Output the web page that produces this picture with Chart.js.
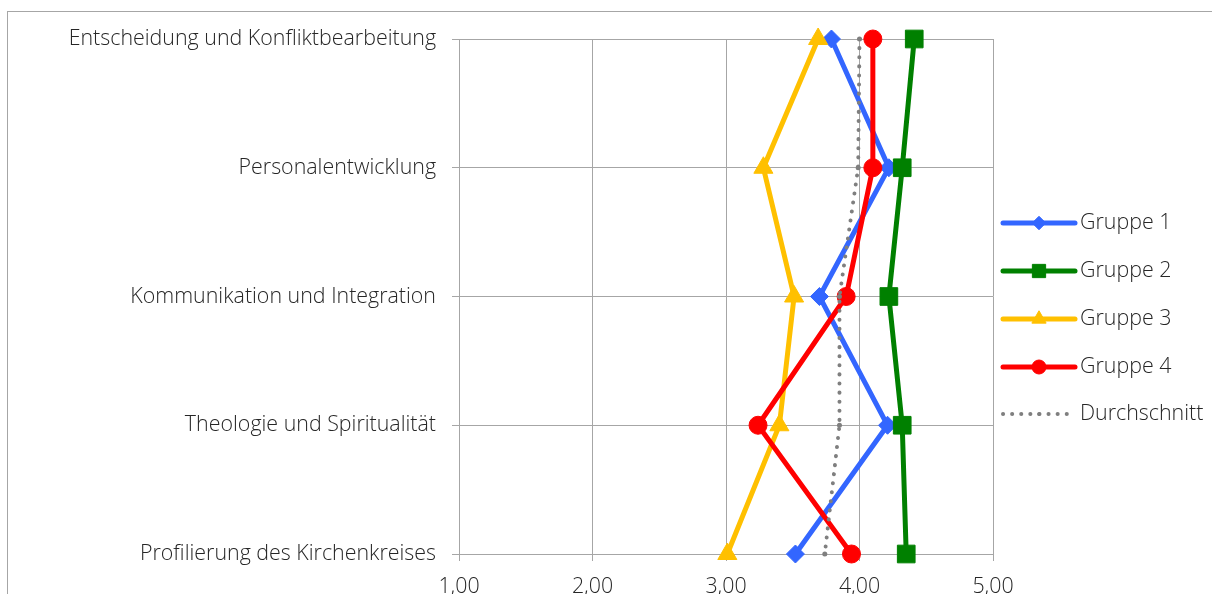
<!DOCTYPE html>
<html>
<head>
<meta charset="utf-8">
<script src="https://cdn.jsdelivr.net/npm/chart.js@4"></script>
<style>
  html, body { margin: 0; padding: 0; background: #fff; overflow: hidden; }
  canvas { display: block; }
</style>
</head>
<body>
<canvas id="c" width="1212" height="594"></canvas>
<script>
// Kompetenzfelder (y-Achse, von oben nach unten)
const categories = [
  'Entscheidung und Konfliktbearbeitung',
  'Personalentwicklung',
  'Kommunikation und Integration',
  'Theologie und Spiritualität',
  'Profilierung des Kirchenkreises'
];

// Mittelwerte je Gruppe
const gruppe1 = [3.79, 4.22, 3.70, 4.21, 3.52];
const gruppe2 = [4.41, 4.32, 4.22, 4.32, 4.35];
const gruppe3 = [3.69, 3.28, 3.51, 3.40, 3.01];
const gruppe4 = [4.10, 4.10, 3.90, 3.24, 3.94];
const durchschnitt = [4.00, 3.99, 3.85, 3.85, 3.74];

const seriesNames = ['Gruppe 1', 'Gruppe 2', 'Gruppe 3', 'Gruppe 4', 'Durchschnitt'];
const xTicks = [1, 2, 3, 4, 5];

const FONT = '"Open Sans"';
const FONT_SIZE = 21.4;
const TEXT = '#262626';
const GRID = '#a6a6a6';

function solidSeries(label, data, color, pointStyle, radius, order) {
  return {
    label, data, order,
    borderColor: color,
    backgroundColor: color,
    borderWidth: 5,
    pointStyle,
    pointRadius: radius,
    pointBorderWidth: 1,
    pointBorderColor: color,
    pointBackgroundColor: color,
    tension: 0
  };
}

const datasets = [
  solidSeries(seriesNames[0], gruppe1, '#3366ff', 'rectRot', 9, 5),
  solidSeries(seriesNames[1], gruppe2, '#008000', 'rect', 12.5, 4),
  solidSeries(seriesNames[2], gruppe3, '#ffc000', 'triangle', 11, 3),
  solidSeries(seriesNames[3], gruppe4, '#ff0000', 'circle', 9, 2),
  {
    label: seriesNames[4], data: durchschnitt, order: 1,
    borderColor: '#7f7f7f',
    backgroundColor: '#7f7f7f',
    borderWidth: 4,
    borderDash: [0.1, 9],
    borderCapStyle: 'round',
    pointStyle: 'circle',
    pointRadius: 2.5,
    pointBorderWidth: 0,
    pointBackgroundColor: '#7f7f7f',
    tension: 0
  }
];

// Rahmen um den Diagrammbereich
const frame = {
  id: 'frame',
  beforeDraw(chart) {
    const ctx = chart.ctx;
    ctx.save();
    ctx.strokeStyle = '#a6a6a6';
    ctx.lineWidth = 1;
    ctx.strokeRect(7.5, 11.5, 3000, 3000);
    ctx.restore();
  }
};

// Legende rechts: Linienmuster mit Markierung und Name
const sideLegend = {
  id: 'sideLegend',
  afterDraw(chart) {
    const ctx = chart.ctx;
    const x0 = 1003, x1 = 1075, xm = (x0 + x1) / 2, tx = 1080;
    const ys = [223, 271, 319, 367, 414];
    ctx.save();
    chart.data.datasets.forEach((ds, i) => {
      const y = ys[i];
      ctx.save();
      ctx.strokeStyle = ds.borderColor;
      ctx.lineWidth = ds.borderWidth;
      ctx.lineCap = 'round';
      if (ds.borderDash) ctx.setLineDash(ds.borderDash);
      ctx.beginPath();
      ctx.moveTo(x0, y);
      ctx.lineTo(x1, y);
      ctx.stroke();
      ctx.restore();
      ctx.fillStyle = ds.pointBackgroundColor;
      ctx.strokeStyle = ds.pointBorderColor || ds.borderColor;
      ctx.lineWidth = ds.pointBorderWidth;
      const r = ds.pointStyle === 'circle' && i < 4 ? 7 : ds.pointRadius * 0.75;
      Chart.helpers.drawPoint(ctx, { pointStyle: ds.pointStyle, rotation: 0, radius: r, borderWidth: ds.pointBorderWidth }, xm, y);
      ctx.fillStyle = TEXT;
      ctx.font = '300 ' + FONT_SIZE + 'px ' + FONT;
      ctx.textAlign = 'left';
      ctx.textBaseline = 'middle';
      ctx.fillText(ds.label, tx, y);
    });
    ctx.restore();
  }
};

new Chart(document.getElementById('c'), {
  type: 'line',
  data: { labels: categories, datasets },
  plugins: [frame, sideLegend],
  options: {
    responsive: false,
    animation: false,
    devicePixelRatio: 1,
    indexAxis: 'y',
    layout: { padding: { top: 39, right: 219, left: 0, bottom: 0 } },
    plugins: { legend: { display: false }, tooltip: { enabled: false } },
    scales: {
      x: {
        type: 'linear',
        position: 'bottom',
        min: xTicks[0],
        max: xTicks[xTicks.length - 1],
        afterBuildTicks(scale) { scale.ticks = xTicks.map(v => ({ value: v })); },
        afterFit(scale) { scale.height = 40; },
        grid: { color: GRID, lineWidth: 1, tickLength: 7 },
        border: { color: GRID, width: 1 },
        ticks: {
          padding: 13,
          color: TEXT,
          font: { family: FONT, size: FONT_SIZE, weight: '300' },
          callback: v => v.toFixed(2).replace('.', ',')
        }
      },
      y: {
        type: 'category',
        offset: false,
        afterFit(scale) { scale.width = 459; },
        grid: { color: GRID, lineWidth: 1, tickLength: 7 },
        border: { color: GRID, width: 1 },
        ticks: {
          padding: 16,
          color: TEXT,
          font: { family: FONT, size: FONT_SIZE, weight: '300' }
        }
      }
    }
  }
});
</script>
</body>
</html>
